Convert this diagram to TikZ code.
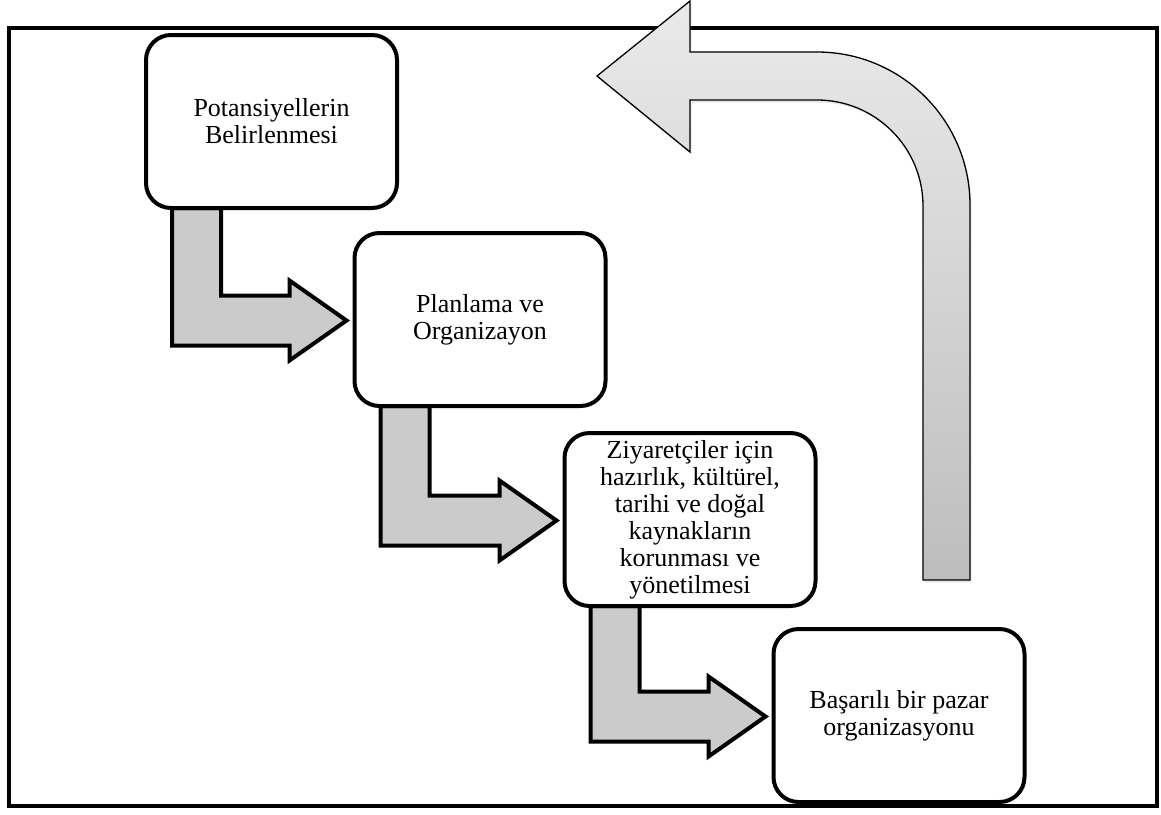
\documentclass[tikz,border=0pt]{standalone}
\usepackage{fontspec}
\setmainfont{Liberation Serif}
\usetikzlibrary{calc,shadows}
\definecolor{stepfill}{RGB}{203,203,203}
\definecolor{bigtop}{RGB}{234,234,234}
\definecolor{bigbot}{RGB}{189,189,189}
\tikzset{
  stagebox/.style={draw=black, line width=4pt, rounded corners=25pt, fill=white,
    minimum width=251pt, minimum height=173pt, inner sep=0pt, align=center,
    font=\fontsize{26}{27}\selectfont},
  steparrow/.style={draw=black, line width=4pt, fill=stepfill, line join=miter},
  bigarrow/.style={draw=black, line width=1.3pt, top color=bigtop, bottom color=bigbot,
    drop shadow={opacity=0.18, shadow xshift=1.5pt, shadow yshift=-2.5pt}},
  frameline/.style={draw=black, line width=4pt}
}
\begin{document}
\begin{tikzpicture}[x=1pt,y=-1pt]
\useasboundingbox (0,0) rectangle (1161,814);
% outer frame
\draw[frameline] (9,28) rectangle (1157,806);

% stage box positions
\coordinate (c1) at (271.5,121.5);
\coordinate (c2) at (480,319.5);
\coordinate (c3) at (690,519.5);
\coordinate (c4) at (899,715.5);

% invisible anchors for the step arrows
\path (c1) node[stagebox, draw=none, fill=none] (b1) {}
      (c2) node[stagebox, draw=none, fill=none] (b2) {}
      (c3) node[stagebox, draw=none, fill=none] (b3) {}
      (c4) node[stagebox, draw=none, fill=none] (b4) {};

\foreach \a/\b in {b1/b2, b2/b3, b3/b4}{
  \coordinate (s) at ($(\a.south west)+(28,-2)$);
  \coordinate (t) at ($(\b.west)+(-6,1)$);
  \draw[steparrow]
    (s) -- ($(s |- t)+(0,25)$) -- ($(t)+(-57,25)$) -- ($(t)+(-57,40)$) -- (t)
    -- ($(t)+(-57,-40)$) -- ($(t)+(-57,-25)$) -- ($(s |- t)+(49,-25)$)
    -- ($(s)+(49,0)$) -- cycle;
}

\node[stagebox] (n1) at (c1) {Potansiyellerin\\Belirlenmesi};
\node[stagebox] (n2) at (c2) {Planlama ve\\Organizayon};
\node[stagebox] (n3) at (c3) {Ziyaretçiler için\\hazırlık, kültürel,\\tarihi ve doğal\\kaynakların\\korunması ve\\yönetilmesi};
\node[stagebox] (n4) at (c4) {Başarılı bir pazar\\organizasyonu};

% big return arrow
\draw[bigarrow]
  (923,580) -- (923,206)
  .. controls (923,147.5) and (875.5,100) .. (817,100)
  -- (690,100) -- (690,152) -- (597,76) -- (690,1) -- (690,52) -- (817,52)
  .. controls (901.5,52) and (970,120.5) .. (970,205)
  -- (970,580) -- cycle;
\end{tikzpicture}
\end{document}
